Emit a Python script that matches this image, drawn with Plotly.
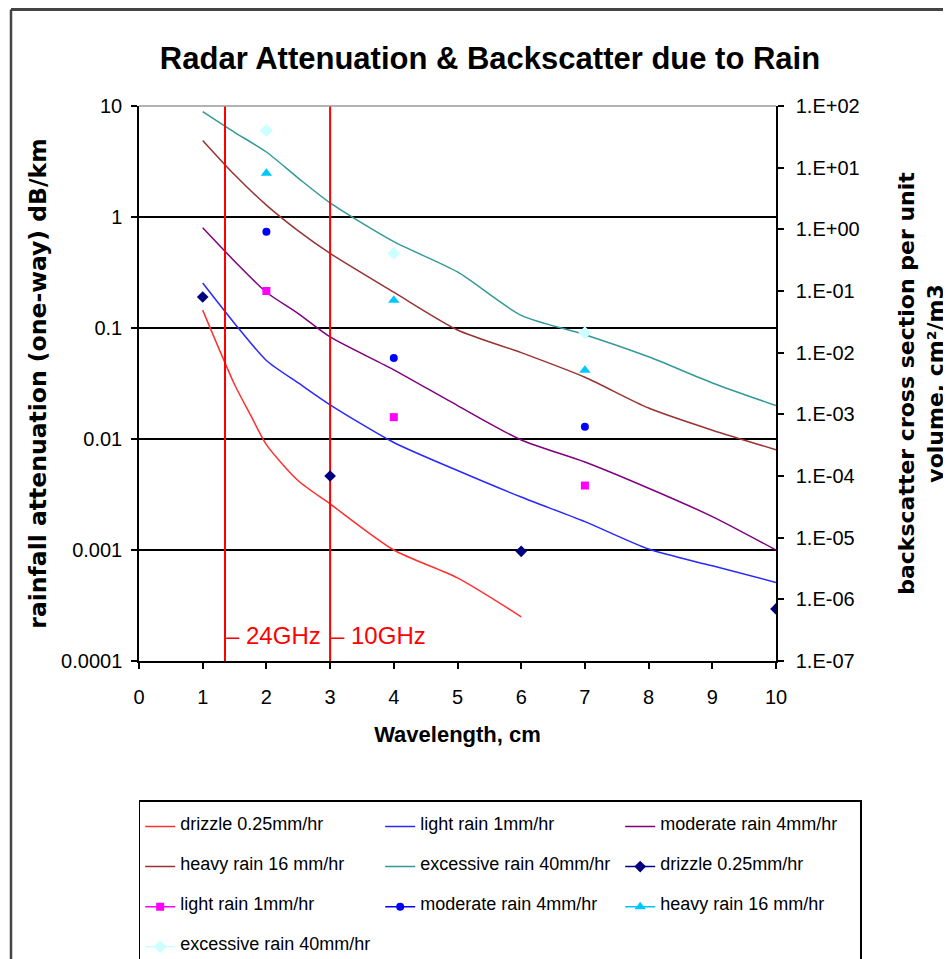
import math
import plotly.graph_objects as go

# ---------------- data ----------------
wl_drizzle = [1, 1.5, 1.75, 2, 2.5, 3, 4, 5, 6]
att_drizzle = [0.145, 0.031, 0.0165, 0.0089, 0.0042, 0.0026, 0.001, 0.00056, 0.00025]

wl_full = [1, 1.5, 2, 2.5, 3, 4, 5, 6, 7, 8, 9, 10]
att_light = [0.254, 0.11, 0.051, 0.032, 0.0203, 0.0093, 0.0052, 0.003, 0.0018, 0.00102, 0.00072, 0.00051]
att_moderate = [0.8, 0.4, 0.21, 0.135, 0.083, 0.042, 0.02, 0.0098, 0.0062, 0.0036, 0.002, 0.001]
att_heavy = [4.9, 2.4, 1.28, 0.75, 0.47, 0.21, 0.096, 0.06, 0.036, 0.019, 0.012, 0.008]
att_excessive = [8.9, 5.8, 3.85, 2.24, 1.34, 0.6, 0.32, 0.13, 0.087, 0.055, 0.032, 0.02]

wl_bs_drizzle = [1, 3, 6, 10]
bs_drizzle = [0.08, 1.0e-4, 6e-6, 7e-7]
wl_bs = [2, 4, 7]
bs_light = [0.1, 9e-4, 7e-5]
bs_moderate = [0.91, 8.2e-3, 6.3e-4]
bs_heavy = [8.1, 0.071, 5.2e-3]
bs_excessive = [40, 0.41, 0.021]

band_wavelengths = [1.35, 3.0]
band_labels = ["24GHz", "10GHz"]
band_label_level = 1.7e-4

x_ticks = list(range(0, 11))
left_tickvals = [10, 1, 0.1, 0.01, 0.001, 0.0001]
left_ticktext = ["10", "1", "0.1", "0.01", "0.001", "0.0001"]
right_tickvals = [1e2, 1e1, 1e0, 1e-1, 1e-2, 1e-3, 1e-4, 1e-5, 1e-6, 1e-7]
right_ticktext = ["1.E+02", "1.E+01", "1.E+00", "1.E-01", "1.E-02",
                  "1.E-03", "1.E-04", "1.E-05", "1.E-06", "1.E-07"]
left_range = [0.0001, 10]
right_range = [1e-7, 1e2]

SANS = "Liberation Sans, Arial, sans-serif"
WIDE = "DejaVu Sans, Verdana, sans-serif"

# page has an 8px body margin; figure drawn at (8, 8)
W, H = 943, 951
PL, PR, PT, PB = 131, 768, 98, 653   # plot area in figure px


def leg(name):
    return "\u00a0<br><span style='font-size:18px'>" + name + "</span><br>\u00a0"


def isolated(vals):
    # separate points with gaps so no connecting line is drawn in the plot,
    # while the legend still shows a line + marker symbol
    out = []
    for v in vals:
        out += [v, None]
    return out[:-1]


fig = go.Figure()

line_series = [
    ("drizzle 0.25mm/hr", wl_drizzle, att_drizzle, "#FF3030"),
    ("light rain 1mm/hr", wl_full, att_light, "#2828FF"),
    ("moderate rain 4mm/hr", wl_full, att_moderate, "#800080"),
    ("heavy rain 16 mm/hr", wl_full, att_heavy, "#993333"),
    ("excessive rain 40mm/hr", wl_full, att_excessive, "#339999"),
]
for name, xs, ys, col in line_series:
    fig.add_trace(go.Scatter(
        x=xs, y=ys, mode="lines", name=leg(name),
        line=dict(color=col, width=1.5, shape="spline", smoothing=0.7),
        yaxis="y"))

marker_series = [
    ("drizzle 0.25mm/hr", wl_bs_drizzle, bs_drizzle, "#000080", "diamond", 9),
    ("light rain 1mm/hr", wl_bs, bs_light, "#FF00FF", "square", 8),
    ("moderate rain 4mm/hr", wl_bs, bs_moderate, "#0000FF", "circle", 8),
    ("heavy rain 16 mm/hr", wl_bs, bs_heavy, "#00C8FF", "triangle-up", 10),
    ("excessive rain 40mm/hr", wl_bs, bs_excessive, "#CCFFFF", "diamond", 10),
]
for name, xs, ys, col, sym, sz in marker_series:
    fig.add_trace(go.Scatter(
        x=isolated(xs), y=isolated(ys), mode="lines+markers", name=leg(name),
        connectgaps=False,
        line=dict(color=col, width=1.5),
        marker=dict(color=col, symbol=sym, size=sz, line=dict(width=0)),
        yaxis="y2"))

# frequency band marker lines
bx, by = [], []
for w in band_wavelengths:
    bx += [w, w, None]
    by += [left_range[0], left_range[1], None]
fig.add_trace(go.Scatter(x=bx, y=by, mode="lines", showlegend=False,
                         line=dict(color="#FF0000", width=2), yaxis="y",
                         hoverinfo="skip"))

annotations = []
for w, lab in zip(band_wavelengths, band_labels):
    annotations.append(dict(
        x=w, y=math.log10(band_label_level), xref="x", yref="y",
        text="\u2013 " + lab, showarrow=False, xanchor="left", yanchor="middle",
        font=dict(family=SANS, size=24, color="#FF0000"), xshift=-1))

pw, ph = PR - PL, PB - PT
frame_top = (PB - 1.5) / ph
frame_left = (3 - PL) / pw

fig.update_layout(
    width=W, height=H,
    paper_bgcolor="white", plot_bgcolor="white",
    margin=dict(l=PL, r=W - PR, t=PT, b=H - PB, autoexpand=False),
    title=dict(text="Radar Attenuation & Backscatter due to Rain",
               font=dict(family=SANS, size=31, color="black", weight="bold"),
               x=482 / W, xanchor="center", y=1 - 50 / H, yanchor="middle",
               xref="container", yref="container"),
    xaxis=dict(range=[0, 10], tickvals=x_ticks, ticks="outside", ticklen=6,
               tickcolor="black", tickwidth=1.5, showline=True, linecolor="black",
               linewidth=1.5, showgrid=False, zeroline=False,
               tickfont=dict(family=SANS, size=20, color="black"),
               ticklabelstandoff=11,
               title=dict(text="Wavelength, cm", standoff=20,
                          font=dict(family=SANS, size=22, color="black", weight="bold"))),
    yaxis=dict(type="log", range=[math.log10(left_range[0]), math.log10(left_range[1])],
               tickvals=left_tickvals, ticktext=left_ticktext,
               ticks="outside", ticklen=6, tickcolor="black", tickwidth=1.5,
               showline=True, linecolor="black", linewidth=1.5,
               showgrid=True, gridcolor="black", gridwidth=1.5, zeroline=False,
               tickfont=dict(family=SANS, size=20, color="black"),
               ticklabelstandoff=5,
               title=dict(text="rainfall attenuation (one-way) dB/km", standoff=8,
                          font=dict(family=WIDE, size=23.5, color="black", weight="bold"))),
    yaxis2=dict(type="log", overlaying="y", side="right",
                range=[math.log10(right_range[0]), math.log10(right_range[1])],
                tickvals=right_tickvals, ticktext=right_ticktext,
                ticks="outside", ticklen=6, tickcolor="black", tickwidth=1.5,
                showline=True, linecolor="black", linewidth=1.5,
                showgrid=False, zeroline=False,
                tickfont=dict(family=SANS, size=20, color="black"),
                ticklabelstandoff=8,
                title=dict(text="backscatter cross section per unit<br>volume, cm\u00b2/m3",
                           standoff=40,
                           font=dict(family=WIDE, size=22, color="black", weight="bold"))),
    yaxis3=dict(type="log", overlaying="y", side="right",
                range=[math.log10(right_range[0]), math.log10(right_range[1])],
                tickvals=right_tickvals, ticks="inside", ticklen=6,
                tickcolor="black", tickwidth=1.5, showticklabels=False,
                showline=False, showgrid=False, zeroline=False),
    legend=dict(orientation="h", xref="paper", yref="paper",
                x=-0.0005, xanchor="left", y=(PB - 792) / ph, yanchor="top",
                entrywidth=195, entrywidthmode="pixels",
                bordercolor="black", borderwidth=1.5, bgcolor="white",
                font=dict(family=SANS, size=9.5, color="black"),
                itemwidth=30),
    annotations=annotations,
    shapes=[
        dict(type="line", xref="paper", yref="paper", x0=0, x1=1, y0=1, y1=1,
             line=dict(color="#999999", width=1.5)),
        dict(type="line", xref="paper", yref="paper",
             x0=frame_left, x1=1.6, y0=frame_top, y1=frame_top,
             line=dict(color="#444444", width=3)),
        dict(type="line", xref="paper", yref="paper",
             x0=frame_left, x1=frame_left, y0=-1.0, y1=frame_top,
             line=dict(color="#444444", width=2.5)),
    ],
    showlegend=True,
)

fig.write_html("out.html")
